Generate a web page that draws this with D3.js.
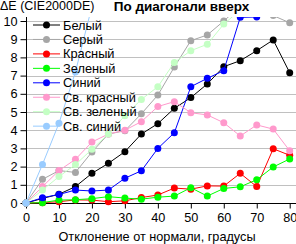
<!DOCTYPE html>
<html>
<head>
<meta charset="utf-8">
<script src="https://cdn.jsdelivr.net/npm/d3@7"></script>
<style>
  body { margin: 0; background: #fff; }
  svg { display: block; font-family: "Liberation Sans", Arial, sans-serif; }
</style>
</head>
<body>
<div id="chart"></div>
<script>
// angle of deviation (degrees)
const angles = [0, 5, 10, 15, 20, 25, 30, 35, 40, 45, 50, 55, 60, 65, 70, 75, 80];

// series values (values above ~10.2 run off the top)
const white = [0, 0.25, 0.48, 0.9, 1.63, 2.18, 2.82, 3.79, 4.36, 5.2, 5.79, 6.54, 7.49, 7.82, 8.37, 8.96, 7.16];
const gray = [0, 1.3, 1.78, 1.68, 2.8, 3.79, 3.97, 4.9, 5.93, 7.47, 8.92, 9.23, 10.0, 10.8, 10.6, 10.3, 9.9];
const red = [0, 0.02, 0.07, 0.17, 0.16, 0.07, 0.12, 0.3, 0.44, 0.82, 0.76, 0.94, 0.93, 1.63, 0.9, 2.98, 2.62];
const green = [0, 0.02, 0.16, 0.18, 0.24, 0.35, 0.27, 0.21, 0.32, 0.38, 0.84, 0.38, 0.8, 0.89, 1.28, 1.98, 2.42];
const blue = [0, 0.29, 0.47, 0.71, 0.66, 0.71, 1.36, 1.77, 3.0, 3.86, 6.39, 6.85, 7.27, 10.2, 10.22, 11, 11.5];
const ltRed = [0, 0.9, 1.78, 2.4, 3.35, 3.79, 4.0, 4.47, 5.3, 5.57, 4.96, 4.84, 4.41, 3.68, 4.29, 4.06, 2.87];
const ltGreen = [0, 0.71, 1.45, 2.11, 2.95, 3.79, 4.8, 5.69, 6.39, 7.72, 8.37, 8.72, 9.83, 10.6, 11, 11.3, 11.5];
const ltBlue = [0, 2.12, 4.38, 7.2, 10.8, 11.5, 12, 12.5, 13, 13.5, 14, 14.5, 15, 15.5, 16, 16.5, 17];

const seriesNames = ["Белый", "Серый", "Красный", "Зеленый", "Синий", "Св. красный", "Св. зеленый", "Св. синий"];
const seriesColors = ["#000000", "#a6a6a6", "#ff0000", "#00ff00", "#0000ff", "#ff99cc", "#c4ffc4", "#99ccff"];
const seriesValues = [white, gray, red, green, blue, ltRed, ltGreen, ltBlue];

const xTicks = [0, 10, 20, 30, 40, 50, 60, 70, 80];
const yTicks = [0, 1, 2, 3, 4, 5, 6, 7, 8, 9, 10];

const width = 296, height = 244;
const plot = { left: 26, right: 289.7, top: 21, bottom: 203, clipTop: 17 };

const svg = d3.select("#chart").append("svg")
    .attr("width", width)
    .attr("height", height);

const x = d3.scaleLinear().domain([0, 80]).range([plot.left, plot.right]);
const y = d3.scaleLinear().domain([0, 10]).range([plot.bottom, plot.top]);

svg.append("defs").append("clipPath").attr("id", "clip")
    .append("rect")
    .attr("x", 0).attr("y", plot.clipTop)
    .attr("width", width).attr("height", height - plot.clipTop);

// horizontal grid
svg.append("g")
    .selectAll("line")
    .data(yTicks.filter(d => d > 0))
    .join("line")
    .attr("x1", plot.left).attr("x2", width)
    .attr("y1", d => Math.round(y(d)) + 0.5).attr("y2", d => Math.round(y(d)) + 0.5)
    .attr("stroke", "#c0c0c0");

// axes
const yAxis = svg.append("g")
    .attr("transform", `translate(${plot.left + 0.5},0)`)
    .call(d3.axisLeft(y).tickValues(yTicks).tickSize(6).tickPadding(3).tickFormat(d3.format("d")));
yAxis.select(".domain").attr("d", `M0,${plot.clipTop}V${plot.bottom}`);

const xAxis = svg.append("g")
    .attr("transform", `translate(0,${plot.bottom + 0.5})`)
    .call(d3.axisBottom(x).tickValues(xTicks).tickSize(5).tickPadding(4).tickFormat(d3.format("d")));
xAxis.select(".domain").attr("d", `M${plot.left},0H${width}`);

svg.selectAll(".tick text")
    .attr("font-size", 12.7)
    .attr("font-family", "Liberation Sans, Arial, sans-serif")
    .attr("fill", "#000");
svg.selectAll(".tick line, .domain").attr("stroke", "#000");

// series
const line = d3.line()
    .x((d, i) => x(angles[i]))
    .y(d => y(d));

const seriesG = svg.append("g").attr("clip-path", "url(#clip)");
seriesValues.forEach((vals, k) => {
    const g = seriesG.append("g");
    g.append("path")
        .datum(vals)
        .attr("fill", "none")
        .attr("stroke", seriesColors[k])
        .attr("stroke-width", 1)
        .attr("d", line);
    g.selectAll("circle")
        .data(vals)
        .join("circle")
        .attr("cx", (d, i) => x(angles[i]))
        .attr("cy", d => y(d))
        .attr("r", 3.5)
        .attr("fill", seriesColors[k]);
});

// legend (no box, lines show through)
const legend = svg.append("g");
seriesNames.forEach((name, k) => {
    const ly = 25 + k * 14.45;
    legend.append("line")
        .attr("x1", 33).attr("x2", 60)
        .attr("y1", ly).attr("y2", ly)
        .attr("stroke", seriesColors[k]);
    legend.append("circle")
        .attr("cx", 46.5).attr("cy", ly).attr("r", 3.5)
        .attr("fill", seriesColors[k]);
    legend.append("text")
        .attr("x", 63).attr("y", ly + 4.5)
        .attr("font-size", 12.8)
        .text(name);
});

// titles
svg.append("text")
    .attr("x", 0).attr("y", 10)
    .attr("font-size", 12.5)
    .text("ΔE (CIE2000DE)");

svg.append("text")
    .attr("x", 181.5).attr("y", 11)
    .attr("font-size", 13.5)
    .attr("font-weight", "bold")
    .attr("text-anchor", "middle")
    .text("По диагонали вверх");

svg.append("text")
    .attr("x", 157).attr("y", 241)
    .attr("font-size", 12.7)
    .attr("text-anchor", "middle")
    .text("Отклонение от нормали, градусы");
</script>
</body>
</html>
